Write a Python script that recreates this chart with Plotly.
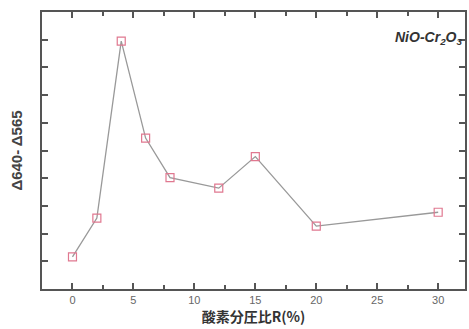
import plotly.graph_objects as go

ratio_R = [0, 2, 4, 6, 8, 12, 15, 20, 30]
delta_diff = [1.16, 2.56, 8.95, 5.45, 4.02, 3.64, 4.78, 2.27, 2.77]
x_ticks = [0, 5, 10, 15, 20, 25, 30]

fig = go.Figure()
fig.add_trace(go.Scatter(
    x=ratio_R, y=delta_diff, mode="lines+markers",
    line=dict(color="#999999", width=1.3),
    marker=dict(symbol="square-open", size=8, color="#e07890", line=dict(width=1.2)),
    showlegend=False,
))

axis_common = dict(
    showline=True, linecolor="#555555", linewidth=1.8, mirror="ticks",
    ticks="inside", ticklen=6, tickcolor="#555555", tickwidth=1.5,
    showgrid=False, zeroline=False,
)

fig.update_layout(
    width=469, height=329,
    margin=dict(l=42, r=2, t=12, b=40),
    paper_bgcolor="white", plot_bgcolor="white",
    xaxis=dict(range=[-2.5, 32.2], tickvals=x_ticks,
               tickfont=dict(family="Arial, Liberation Sans", size=11, color="#666666"),
               title=dict(text="<b>酸素分圧比R(%)</b>", standoff=2,
                          font=dict(family="Noto Sans CJK JP", size=14, color="#333333")),
               minor=dict(dtick=2.5, tick0=0, ticks="inside", ticklen=4, tickcolor="#555555"),
               **axis_common),
    yaxis=dict(range=[0, 10], dtick=1, showticklabels=False,
               title=dict(text="<b>Δ640- Δ565</b>", standoff=14,
                          font=dict(family="Arial, Liberation Sans", size=15, color="#444444")),
               **axis_common),
    annotations=[dict(
        x=0.997, y=0.905, xref="paper", yref="paper", xanchor="right", yanchor="middle",
        text="<b><i>NiO-Cr<sub>2</sub>O<sub>3</sub></i></b>", showarrow=False,
        font=dict(family="Arial, Liberation Sans", size=14, color="#333333"),
    )],
)

fig.write_html("out.html")
